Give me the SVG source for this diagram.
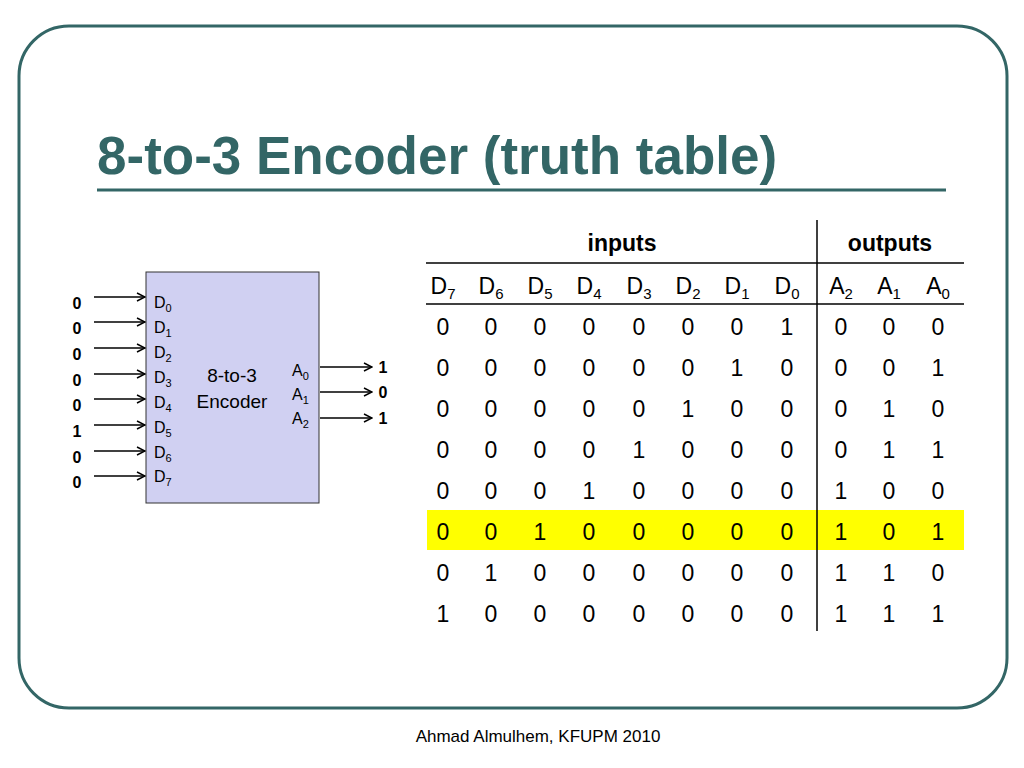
<svg xmlns="http://www.w3.org/2000/svg" width="1024" height="768" viewBox="0 0 1024 768">
<style>
text{font-family:"Liberation Sans",Arial,sans-serif;fill:#000}
.c{font-size:23px;text-anchor:middle}
.h{font-size:23px;font-weight:bold;text-anchor:middle}
.l{font-size:16px}
.e{font-size:19px;text-anchor:middle}
.b{font-size:16px;font-weight:bold;text-anchor:middle}
.w{stroke:#000;stroke-width:1.5;fill:none}
</style>
<defs><marker id="a" markerWidth="10" markerHeight="10" refX="9" refY="5" orient="auto" markerUnits="userSpaceOnUse"><path d="M1,1 L9,5 L1,9" fill="none" stroke="#000" stroke-width="1.5"/></marker></defs>
<rect width="1024" height="768" fill="#fff"/>
<rect x="19" y="26" width="988" height="682" rx="50" fill="none" stroke="#336666" stroke-width="3"/>
<text x="97" y="174" style="font-size:53px;font-weight:bold;fill:#336666">8-to-3 Encoder (truth table)</text>
<line x1="97" y1="190" x2="946" y2="190" stroke="#336666" stroke-width="3"/>
<g id="encoder">
<rect x="146" y="272" width="173" height="231" fill="#d0d0f2" stroke="#333" stroke-width="1"/>
<text x="154" y="308" class="l">D<tspan font-size="11" dy="4">0</tspan></text>
<text x="154" y="333" class="l">D<tspan font-size="11" dy="4">1</tspan></text>
<text x="154" y="358" class="l">D<tspan font-size="11" dy="4">2</tspan></text>
<text x="154" y="383" class="l">D<tspan font-size="11" dy="4">3</tspan></text>
<text x="154" y="408" class="l">D<tspan font-size="11" dy="4">4</tspan></text>
<text x="154" y="433" class="l">D<tspan font-size="11" dy="4">5</tspan></text>
<text x="154" y="458" class="l">D<tspan font-size="11" dy="4">6</tspan></text>
<text x="154" y="482" class="l">D<tspan font-size="11" dy="4">7</tspan></text>
<text x="232" y="382" class="e">8-to-3</text>
<text x="232" y="408" class="e">Encoder</text>
<text x="292" y="376" class="l">A<tspan font-size="11" dy="4">0</tspan></text>
<text x="292" y="400" class="l">A<tspan font-size="11" dy="4">1</tspan></text>
<text x="292" y="424" class="l">A<tspan font-size="11" dy="4">2</tspan></text>
</g>
<g id="connectors">
<line x1="94" y1="297" x2="145" y2="297" class="w" marker-end="url(#a)"/>
<line x1="94" y1="322" x2="145" y2="322" class="w" marker-end="url(#a)"/>
<line x1="94" y1="348" x2="145" y2="348" class="w" marker-end="url(#a)"/>
<line x1="94" y1="374" x2="145" y2="374" class="w" marker-end="url(#a)"/>
<line x1="94" y1="399" x2="145" y2="399" class="w" marker-end="url(#a)"/>
<line x1="94" y1="425" x2="145" y2="425" class="w" marker-end="url(#a)"/>
<line x1="94" y1="451" x2="145" y2="451" class="w" marker-end="url(#a)"/>
<line x1="94" y1="476" x2="145" y2="476" class="w" marker-end="url(#a)"/>
<line x1="320" y1="367" x2="372" y2="367" class="w" marker-end="url(#a)"/>
<line x1="320" y1="392" x2="372" y2="392" class="w" marker-end="url(#a)"/>
<line x1="320" y1="418" x2="372" y2="418" class="w" marker-end="url(#a)"/>
</g>
<g id="values">
<text x="77" y="309" class="b">0</text><text x="77" y="334" class="b">0</text><text x="77" y="360" class="b">0</text><text x="77" y="386" class="b">0</text><text x="77" y="411" class="b">0</text><text x="77" y="437" class="b">1</text><text x="77" y="463" class="b">0</text><text x="77" y="488" class="b">0</text>
<text x="383" y="373" class="b">1</text><text x="383" y="398" class="b">0</text><text x="383" y="424" class="b">1</text>
</g>
<g id="table">
<rect x="427" y="510" width="537" height="40" fill="#ffff00"/>
<line x1="426" y1="263" x2="964" y2="263" stroke="#000" stroke-width="1.5"/>
<line x1="426" y1="304" x2="964" y2="304" stroke="#000" stroke-width="1.5"/>
<line x1="817" y1="220" x2="817" y2="631" stroke="#000" stroke-width="1.5"/>
<text x="622" y="251" class="h">inputs</text>
<text x="890" y="251" class="h">outputs</text>
<text x="443" y="294" class="c">D<tspan font-size="15" dy="5">7</tspan></text>
<text x="491" y="294" class="c">D<tspan font-size="15" dy="5">6</tspan></text>
<text x="540" y="294" class="c">D<tspan font-size="15" dy="5">5</tspan></text>
<text x="589" y="294" class="c">D<tspan font-size="15" dy="5">4</tspan></text>
<text x="639" y="294" class="c">D<tspan font-size="15" dy="5">3</tspan></text>
<text x="688" y="294" class="c">D<tspan font-size="15" dy="5">2</tspan></text>
<text x="737" y="294" class="c">D<tspan font-size="15" dy="5">1</tspan></text>
<text x="787" y="294" class="c">D<tspan font-size="15" dy="5">0</tspan></text>
<text x="841" y="294" class="c">A<tspan font-size="15" dy="5">2</tspan></text>
<text x="889" y="294" class="c">A<tspan font-size="15" dy="5">1</tspan></text>
<text x="938" y="294" class="c">A<tspan font-size="15" dy="5">0</tspan></text>
<text y="335" class="c"><tspan x="443">0</tspan><tspan x="491">0</tspan><tspan x="540">0</tspan><tspan x="589">0</tspan><tspan x="639">0</tspan><tspan x="688">0</tspan><tspan x="737">0</tspan><tspan x="787">1</tspan><tspan x="841">0</tspan><tspan x="889">0</tspan><tspan x="938">0</tspan></text>
<text y="376" class="c"><tspan x="443">0</tspan><tspan x="491">0</tspan><tspan x="540">0</tspan><tspan x="589">0</tspan><tspan x="639">0</tspan><tspan x="688">0</tspan><tspan x="737">1</tspan><tspan x="787">0</tspan><tspan x="841">0</tspan><tspan x="889">0</tspan><tspan x="938">1</tspan></text>
<text y="417" class="c"><tspan x="443">0</tspan><tspan x="491">0</tspan><tspan x="540">0</tspan><tspan x="589">0</tspan><tspan x="639">0</tspan><tspan x="688">1</tspan><tspan x="737">0</tspan><tspan x="787">0</tspan><tspan x="841">0</tspan><tspan x="889">1</tspan><tspan x="938">0</tspan></text>
<text y="458" class="c"><tspan x="443">0</tspan><tspan x="491">0</tspan><tspan x="540">0</tspan><tspan x="589">0</tspan><tspan x="639">1</tspan><tspan x="688">0</tspan><tspan x="737">0</tspan><tspan x="787">0</tspan><tspan x="841">0</tspan><tspan x="889">1</tspan><tspan x="938">1</tspan></text>
<text y="499" class="c"><tspan x="443">0</tspan><tspan x="491">0</tspan><tspan x="540">0</tspan><tspan x="589">1</tspan><tspan x="639">0</tspan><tspan x="688">0</tspan><tspan x="737">0</tspan><tspan x="787">0</tspan><tspan x="841">1</tspan><tspan x="889">0</tspan><tspan x="938">0</tspan></text>
<text y="540" class="c"><tspan x="443">0</tspan><tspan x="491">0</tspan><tspan x="540">1</tspan><tspan x="589">0</tspan><tspan x="639">0</tspan><tspan x="688">0</tspan><tspan x="737">0</tspan><tspan x="787">0</tspan><tspan x="841">1</tspan><tspan x="889">0</tspan><tspan x="938">1</tspan></text>
<text y="581" class="c"><tspan x="443">0</tspan><tspan x="491">1</tspan><tspan x="540">0</tspan><tspan x="589">0</tspan><tspan x="639">0</tspan><tspan x="688">0</tspan><tspan x="737">0</tspan><tspan x="787">0</tspan><tspan x="841">1</tspan><tspan x="889">1</tspan><tspan x="938">0</tspan></text>
<text y="622" class="c"><tspan x="443">1</tspan><tspan x="491">0</tspan><tspan x="540">0</tspan><tspan x="589">0</tspan><tspan x="639">0</tspan><tspan x="688">0</tspan><tspan x="737">0</tspan><tspan x="787">0</tspan><tspan x="841">1</tspan><tspan x="889">1</tspan><tspan x="938">1</tspan></text>
</g>
<text x="538" y="742" style="font-size:17px;text-anchor:middle">Ahmad Almulhem, KFUPM 2010</text>
</svg>
